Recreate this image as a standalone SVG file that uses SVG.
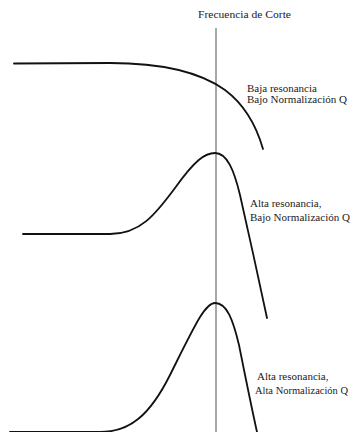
<svg xmlns="http://www.w3.org/2000/svg" width="353" height="432" viewBox="0 0 353 432">
<style>
.t{font-family:"Liberation Serif","Times New Roman",serif;font-size:11px;fill:#222}
.c{fill:none;stroke:#111;stroke-width:1.8;stroke-linecap:round}
.v{stroke:#8a8a8a;stroke-width:1.5}
</style>
<rect width="353" height="432" fill="#fff"/>
<g id="cutoff">
<line class="v" x1="216" y1="28" x2="216" y2="432"/>
<text class="t" x="198" y="18" textLength="93" lengthAdjust="spacingAndGlyphs">Frecuencia de Corte</text>
</g>
<g id="curve-low-low">
<path class="c" d="M14,63.5 L110,63 C160,63 200,72 225,90 C245,105 257,128 263,149"/>
<text class="t" x="247" y="92">Baja resonancia</text>
<text class="t" x="247" y="102.5" textLength="100" lengthAdjust="spacingAndGlyphs">Bajo Normalización Q</text>
</g>
<g id="curve-high-low">
<path class="c" d="M23,234 L110,234 C140,234 155,215 175,188 C195,160 205,153 215,153 C227,153 234,170 240,195 C248,230 260,285 267,318"/>
<text class="t" x="250" y="207">Alta resonancia,</text>
<text class="t" x="250" y="220.5" textLength="100" lengthAdjust="spacingAndGlyphs">Bajo Normalización Q</text>
</g>
<g id="curve-high-high">
<path class="c" d="M10,432 L100,432 C130,432 150,415 170,375 C195,325 205,303 215,303 C227,303 233,320 239,345 C245,375 251,405 257,432"/>
<text class="t" x="257" y="380">Alta resonancia,</text>
<text class="t" x="255" y="393.5" style="font-size:10.5px" textLength="93" lengthAdjust="spacingAndGlyphs">Alta Normalización Q</text>
</g>
</svg>
